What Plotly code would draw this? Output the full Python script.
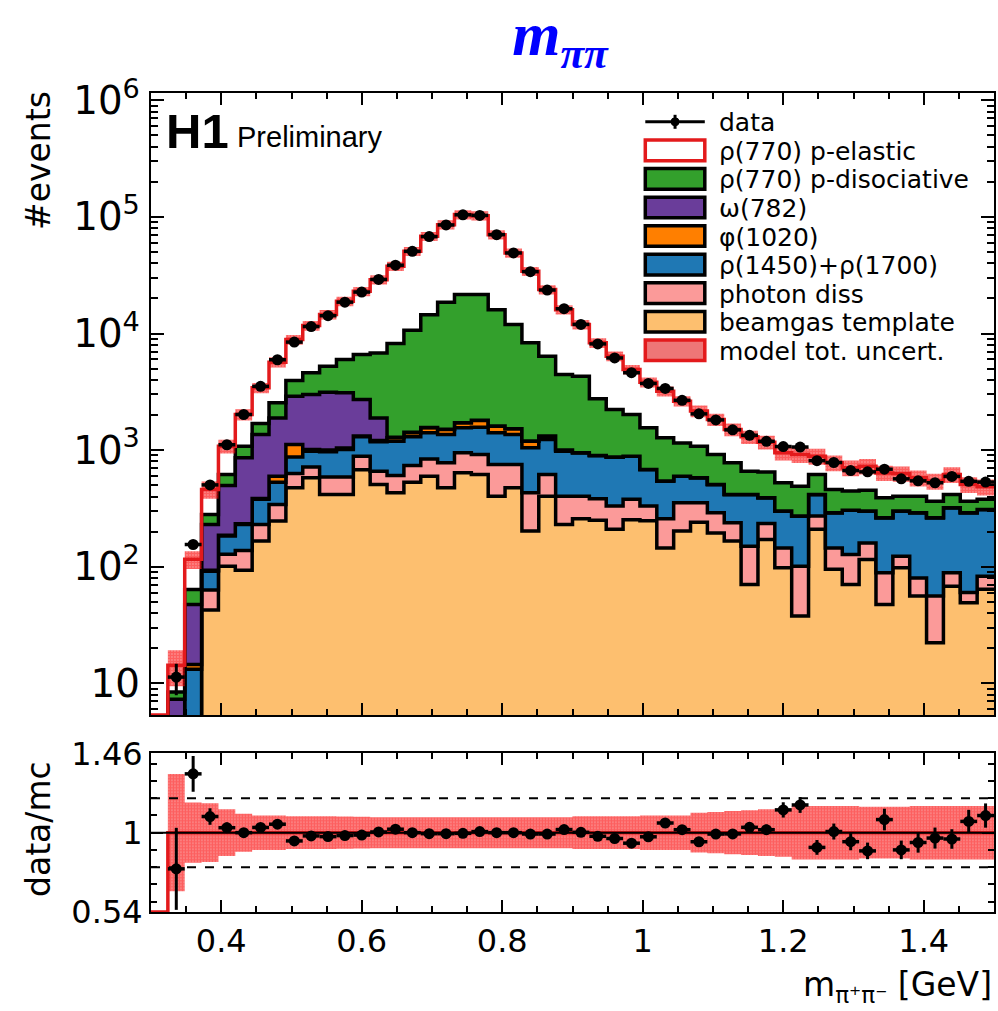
import plotly.graph_objects as go

# ---------------- data ----------------
bin_edges = [0.300, 0.324, 0.348, 0.372, 0.396, 0.420, 0.444, 0.468, 0.492, 0.516,
             0.540, 0.564, 0.588, 0.612, 0.636, 0.660, 0.684, 0.708, 0.732, 0.756,
             0.780, 0.804, 0.828, 0.852, 0.876, 0.900, 0.924, 0.948, 0.972, 0.996,
             1.020, 1.044, 1.068, 1.092, 1.116, 1.140, 1.164, 1.188, 1.212, 1.236,
             1.260, 1.284, 1.308, 1.332, 1.356, 1.380, 1.404, 1.428, 1.452, 1.476, 1.500]

beamgas = [0, 0, 0, 42.5, 101, 93, 166, 246, 475, 580,
           417, 417, 677, 507, 430, 531, 598, 475, 638, 618,
           403, 475, 202, 403, 230, 258, 250, 209, 253, 248,
           145, 202, 241, 195, 166, 70.5, 171, 98, 37.8, 209,
           95, 70.5, 115, 47.5, 98, 56, 22.3, 68, 49, 64]
photon_diss = [0, 0, 0, 20.5, 26.6, 45, 64, 96, 155, 135,
               170, 170, 211, 153, 175, 207, 243, 303, 310, 298,
               350, 278, 228, 215, 173, 145, 132, 122, 125, 83,
               113, 151, 112, 95, 72, 79.5, 64, 47, 63.2, 63,
               50, 56.5, 45, 41.2, 25, 24, 33.7, 20.7, 11, 19]
rho1450_1700 = [0, 0, 13.2, 28.6, 55.4, 92, 148, 189, 242, 265,
                381, 425, 412, 518, 589, 562, 565, 583, 604, 658,
                653, 608, 617, 615, 577, 545, 518, 540, 510, 351,
                284, 245, 225, 217, 179, 267, 155, 155, 171, 145,
                145, 178, 140, 174, 177, 210, 207, 231, 230, 227]
phi1020 = [0, 0, 1.3, 1.4, 3, 3, 7, 67, 246, 30,
           32, 28, 20, 32, 80, 106, 146, 142, 162, 221,
           198, 161, 147, 85, 20, 0, 0, 0, 0, 0,
           0, 0, 0, 0, 0, 0, 0, 0, 0, 0,
           0, 0, 0, 0, 0, 0, 0, 0, 0, 0]
omega782 = [0, 7.3, 33, 137.6, 312, 626, 976, 1292, 1782, 1990,
            2140, 2060, 1400, 680, 16, 14, 8, 7, 6, 5,
            6, 3, 3, 2, 0, 0, 0, 0, 0, 0,
            0, 0, 0, 0, 0, 0, 0, 0, 0, 0,
            0, 0, 0, 0, 0, 0, 0, 0, 0, 0]
rho770_pdiss = [0, 1.1, 16.4, 50, 120, 222, 329, 660, 1050, 1600,
                2110, 2880, 3880, 4930, 6910, 9250, 12960, 17030, 19860, 19780,
                14420, 10425, 7123, 5070, 3450, 3352, 1860, 1359, 1132, 870,
                732, 555, 503, 409, 361, 243, 258, 224, 219, 201,
                170, 140, 153, 127, 103, 113, 102, 97, 75, 68]
rho770_pel = [0, 5.9, 51.7, 179.4, 463, 939, 1730, 3130, 4920, 7100,
              9300, 12920, 16400, 22150, 29600, 40030, 53680, 67360, 83120, 80920,
              54470, 37150, 25880, 17410, 11580, 7650, 5560, 4160, 2890, 2268,
              1926, 1477, 1079, 914, 725, 640, 522, 424, 425, 270,
              318, 260, 275, 248, 227, 175, 177, 201, 142, 106]

data_counts = [None, 11.3, 155, 503, 1112, 2020, 3523, 5958, 8444, 11478,
               14215, 18579, 22678, 29086, 38556, 50700, 67791, 85385, 104281, 103115,
               70500, 49100, 33926, 23610, 16318, 11974, 8145, 6173, 4610, 3728,
               3379, 2675, 2046, 1815, 1492, 1340, 1190, 1073, 1063, 812,
               783, 668, 651, 686, 567, 545, 525, 595, 540, 532]
data_err = [None, 3.4, 12, 22, 33, 45, 60, 75, 90, 105,
            120, 135, 150, 170, 195, 225, 260, 290, 320, 320,
            265, 220, 185, 155, 128, 110, 90, 79, 68, 61,
            58, 52, 46, 43, 39, 37, 35, 42, 42, 38,
            36, 35, 35, 40, 34, 34, 33, 35, 34, 34]
model_rel_unc = [0, 0.34, 0.175, 0.17, 0.135, 0.11, 0.10, 0.10, 0.095, 0.095,
                 0.095, 0.093, 0.092, 0.09, 0.09, 0.09, 0.09, 0.09, 0.09, 0.09,
                 0.09, 0.09, 0.09, 0.09, 0.09, 0.095, 0.095, 0.095, 0.095, 0.10,
                 0.10, 0.10, 0.115, 0.12, 0.125, 0.13, 0.135, 0.14, 0.155, 0.155,
                 0.155, 0.155, 0.15, 0.15, 0.15, 0.155, 0.155, 0.155, 0.155, 0.155]

x_tick_vals = [0.4, 0.6, 0.8, 1.0, 1.2, 1.4]
x_tick_text = ["0.4", "0.6", "0.8", "1", "1.2", "1.4"]
ratio_tick_vals = [0.54, 1.0, 1.46]
ratio_tick_text = ["0.54", "1", "1.46"]
ratio_ref_lines = [0.8, 1.2]
x_range = [0.3, 1.5]
main_log_range = [0.728, 6.063]
ratio_range = [0.54, 1.46]

# ---------------- styling ----------------
C_BEAM = "#FDBF6F"
C_PHOT = "#FB9A99"
C_R1450 = "#1F78B4"
C_PHI = "#FF7F00"
C_OMEGA = "#6A3D9A"
C_PDISS = "#33A02C"
C_RED = "#E31A1C"

components = [
    (beamgas, C_BEAM),
    (photon_diss, C_PHOT),
    (rho1450_1700, C_R1450),
    (phi1020, C_PHI),
    (omega782, C_OMEGA),
    (rho770_pdiss, C_PDISS),
]

W, H = 998, 1011
ML, MR, MT, MB = 151, 4, 93, 99
PW = W - ML - MR
PH = H - MT - MB


def px(xp):
    return (xp - ML) / PW


def py(yp):
    return (H - MB - yp) / PH


nb = len(beamgas)
centers = [(bin_edges[i] + bin_edges[i + 1]) / 2 for i in range(nb)]
half_w = [(bin_edges[i + 1] - bin_edges[i]) / 2 for i in range(nb)]
FLOOR = 1.0
AXIS_FLOOR = 10 ** main_log_range[0]


def step(vals, floor=FLOOR):
    v = [max(x, floor) for x in vals]
    return v + [v[-1]]


BAND_PATTERN = dict(shape=".", fgcolor="#FF0000", bgcolor="rgba(240,40,40,0.30)",
                    size=3, solidity=0.8)

fig = go.Figure()

# baseline for the first filled histogram
cum = [0.0] * nb
fig.add_trace(go.Scatter(x=bin_edges, y=step(cum), mode="lines",
                         line=dict(width=0, shape="hv"), hoverinfo="skip",
                         showlegend=False, xaxis="x", yaxis="y"))
for vals, col in components:
    cum = [c + v for c, v in zip(cum, vals)]
    fig.add_trace(go.Scatter(x=bin_edges, y=step(cum), mode="lines",
                             line=dict(color="black", width=3.5, shape="hv"),
                             fill="tonexty", fillcolor=col, hoverinfo="skip",
                             showlegend=False, xaxis="x", yaxis="y"))
total = [c + e for c, e in zip(cum, rho770_pel)]

# model uncertainty band
band_lo = [t * (1 - d) for t, d in zip(total, model_rel_unc)]
band_hi = [t * (1 + d) for t, d in zip(total, model_rel_unc)]
fig.add_trace(go.Scatter(x=bin_edges, y=step(band_lo), mode="lines",
                         line=dict(width=0, shape="hv"), hoverinfo="skip",
                         showlegend=False, xaxis="x", yaxis="y"))
fig.add_trace(go.Scatter(x=bin_edges, y=step(band_hi), mode="lines",
                         line=dict(width=0, shape="hv"), fill="tonexty",
                         fillcolor="rgba(0,0,0,0)", fillpattern=BAND_PATTERN,
                         hoverinfo="skip", showlegend=False, xaxis="x", yaxis="y"))

# total (rho p-elastic outline)
fig.add_trace(go.Scatter(x=bin_edges, y=step(total, AXIS_FLOOR), mode="lines",
                         line=dict(color=C_RED, width=3.5, shape="hv"),
                         hoverinfo="skip", showlegend=False, xaxis="x", yaxis="y"))

# data
fig.add_trace(go.Scatter(x=centers, y=data_counts, mode="markers",
                         marker=dict(color="black", size=11),
                         error_y=dict(type="data", array=data_err, color="black", thickness=3, width=0),
                         error_x=dict(type="data", array=half_w, color="black", thickness=3.5, width=0),
                         showlegend=False, xaxis="x", yaxis="y"))

# ---------------- ratio panel ----------------
model_ratio = [1.0 if t > 0 else 0.0 for t in total]
r_lo = [1 - d if t > 0 else 1.0 for t, d in zip(total, model_rel_unc)]
r_hi = [1 + d if t > 0 else 1.0 for t, d in zip(total, model_rel_unc)]
fig.add_trace(go.Scatter(x=bin_edges, y=r_lo + [r_lo[-1]], mode="lines",
                         line=dict(width=0, shape="hv"), hoverinfo="skip",
                         showlegend=False, xaxis="x2", yaxis="y2"))
fig.add_trace(go.Scatter(x=bin_edges, y=r_hi + [r_hi[-1]], mode="lines",
                         line=dict(width=0, shape="hv"), fill="tonexty",
                         fillcolor="rgba(0,0,0,0)", fillpattern=BAND_PATTERN,
                         hoverinfo="skip", showlegend=False, xaxis="x2", yaxis="y2"))
fig.add_trace(go.Scatter(x=bin_edges, y=step(model_ratio, ratio_range[0]), mode="lines",
                         line=dict(color=C_RED, width=3.5, shape="hv"),
                         hoverinfo="skip", showlegend=False, xaxis="x2", yaxis="y2"))

ratio = [d / t if (d is not None and t > 0) else None for d, t in zip(data_counts, total)]
ratio_err = [e / t if (e is not None and t > 0) else None for e, t in zip(data_err, total)]
fig.add_trace(go.Scatter(x=centers, y=ratio, mode="markers",
                         marker=dict(color="black", size=11),
                         error_y=dict(type="data", array=ratio_err, color="black", thickness=3, width=0),
                         error_x=dict(type="data", array=half_w, color="black", thickness=3.5, width=0),
                         showlegend=False, xaxis="x2", yaxis="y2"))

# ---------------- layout ----------------
TICKFONT = dict(family="DejaVu Sans", size=32, color="black")
common_x = dict(range=x_range, tickmode="array", tickvals=x_tick_vals, ticktext=x_tick_text,
                ticks="inside", ticklen=12, tickwidth=2, tickcolor="black",
                minor=dict(tickmode="linear", tick0=0, dtick=0.05, ticks="inside", ticklen=6,
                           tickwidth=2, tickcolor="black", showgrid=False),
                showline=True, linewidth=2, linecolor="black", mirror="allticks",
                showgrid=False, zeroline=False, tickfont=TICKFONT)

fig.update_layout(
    width=W, height=H,
    margin=dict(l=ML, r=MR, t=MT, b=MB, pad=0, autoexpand=False),
    paper_bgcolor="white", plot_bgcolor="white",
    font=dict(family="DejaVu Sans", color="black"),
    showlegend=False,
    title=dict(text="<b><i>m</i></b><sub><b><i>ππ</i></b></sub>", x=560 / W, xanchor="center",
               y=1 - 33 / H, yref="container", yanchor="middle",
               font=dict(family="Liberation Serif", size=62, color="#0000FF")),
    xaxis=dict(domain=[0, 1], anchor="y", showticklabels=False, **common_x),
    yaxis=dict(domain=[py(715), 1], anchor="x", type="log", range=main_log_range,
               tick0=0, dtick=1, exponentformat="power",
               ticks="inside", ticklen=13, tickwidth=2, tickcolor="black",
               minor=dict(dtick="D1", ticks="inside", ticklen=7, tickwidth=2,
                          tickcolor="black", showgrid=False),
               showline=True, linewidth=2, linecolor="black", mirror="allticks",
               showgrid=False, zeroline=False,
               tickfont=dict(family="DejaVu Sans", size=31, color="black"),
               ticklabelstandoff=3),
    xaxis2=dict(domain=[0, 1], anchor="y2", showticklabels=True, ticklabelstandoff=0, **common_x),
    yaxis2=dict(domain=[0, py(753.3)], anchor="x2", range=ratio_range,
                tickmode="array", tickvals=ratio_tick_vals, ticktext=ratio_tick_text,
                ticks="inside", ticklen=12, tickwidth=2, tickcolor="black",
                minor=dict(tickmode="linear", tick0=0, dtick=0.1, ticks="inside", ticklen=6,
                           tickwidth=2, tickcolor="black", showgrid=False),
                showline=True, linewidth=2, linecolor="black", mirror="allticks",
                showgrid=False, zeroline=False, tickfont=TICKFONT, ticklabelstandoff=0),
)

shapes = []
for lvl in ratio_ref_lines:
    shapes.append(dict(type="line", xref="x2 domain", yref="y2", x0=0, x1=1, y0=lvl, y1=lvl,
                       line=dict(color="black", width=2, dash="dash")))
shapes.append(dict(type="line", xref="x2 domain", yref="y2", x0=0, x1=1, y0=1, y1=1,
                   line=dict(color="black", width=2)))

annotations = []
annotations.append(dict(text="#events", x=px(38), y=py(160), xref="paper", yref="paper",
                        textangle=-90, showarrow=False, xanchor="center", yanchor="middle",
                        font=dict(family="DejaVu Sans", size=33, color="black")))
annotations.append(dict(text="data/mc", x=px(38), y=py(829), xref="paper", yref="paper",
                        textangle=-90, showarrow=False, xanchor="center", yanchor="middle",
                        font=dict(family="DejaVu Sans", size=33, color="black")))
annotations.append(dict(text="m<sub>π⁺π⁻</sub> [GeV]", x=1.0, y=py(987), xref="paper", yref="paper",
                        showarrow=False, xanchor="right", yanchor="middle",
                        font=dict(family="DejaVu Sans", size=33, color="black")))
annotations.append(dict(text="<b>H1</b>", x=px(164), y=py(131), xref="paper", yref="paper",
                        showarrow=False, xanchor="left", yanchor="middle",
                        font=dict(family="Liberation Sans", size=49, color="black")))
annotations.append(dict(text="Preliminary", x=px(235), y=py(137), xref="paper", yref="paper",
                        showarrow=False, xanchor="left", yanchor="middle",
                        font=dict(family="Liberation Sans", size=29, color="black")))

# ---------------- legend (drawn by hand) ----------------
legend_entries = [
    ("data", "data", None, None),
    ("ρ(770) p-elastic", "box", "white", C_RED),
    ("ρ(770) p-disociative", "box", C_PDISS, "black"),
    ("ω(782)", "box", C_OMEGA, "black"),
    ("φ(1020)", "box", C_PHI, "black"),
    ("ρ(1450)+ρ(1700)", "box", C_R1450, "black"),
    ("photon diss", "box", C_PHOT, "black"),
    ("beamgas template", "box", C_BEAM, "black"),
    ("model tot. uncert.", "box", "rgba(227,26,28,0.6)", C_RED),
]
ROW0, DROW = 121.8, 28.56
BX0, BX1, BHH = 645.3, 704.8, 10.3
TX = 717.0
for k, (label, kind, fill, edge) in enumerate(legend_entries):
    yc = ROW0 + DROW * k
    if kind == "data":
        shapes.append(dict(type="line", xref="paper", yref="paper", x0=px(BX0), x1=px(BX1),
                           y0=py(yc), y1=py(yc), line=dict(color="black", width=3)))
        xc = (BX0 + BX1) / 2
        shapes.append(dict(type="line", xref="paper", yref="paper", x0=px(xc), x1=px(xc),
                           y0=py(yc - 7), y1=py(yc + 7), line=dict(color="black", width=3)))
        shapes.append(dict(type="circle", xref="paper", yref="paper", x0=px(xc - 4), x1=px(xc + 4),
                           y0=py(yc + 4), y1=py(yc - 4), fillcolor="black", line=dict(color="black", width=1)))
    else:
        shapes.append(dict(type="rect", xref="paper", yref="paper", x0=px(BX0), x1=px(BX1),
                           y0=py(yc + BHH), y1=py(yc - BHH), fillcolor=fill,
                           line=dict(color=edge, width=3.5)))
    annotations.append(dict(text=label, x=px(TX), y=py(yc + 1), xref="paper", yref="paper",
                            showarrow=False, xanchor="left", yanchor="middle",
                            font=dict(family="DejaVu Sans", size=25, color="black")))

fig.update_layout(shapes=shapes, annotations=annotations)
fig.write_html("out.html")
